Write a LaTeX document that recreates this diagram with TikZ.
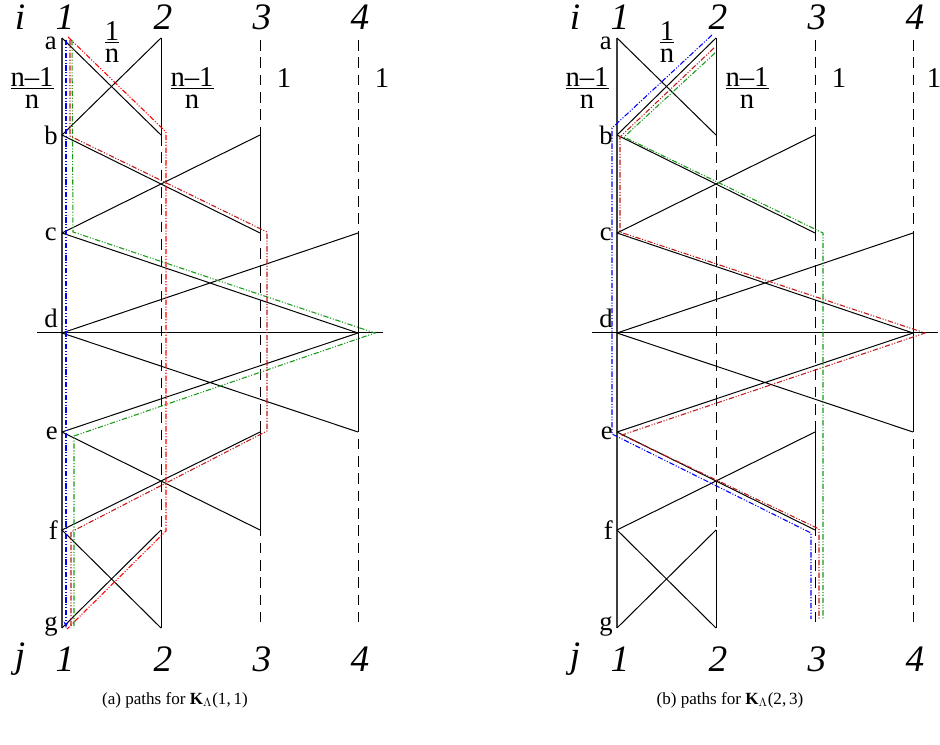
\documentclass[tikz,border=0pt]{standalone}
\usepackage{fontspec}
\setmainfont{Liberation Serif}
\usetikzlibrary{arrows.meta}
\definecolor{pblue}{rgb}{0,0,1}
\definecolor{pgreen}{rgb}{0.1,0.6,0.1}
\definecolor{pred}{rgb}{1,0,0}
\definecolor{pdred}{rgb}{0.75,0.1,0.1}
\newcommand\wfrac[2]{\vbox{\offinterlineskip\halign{\hfil##\hfil\cr #1\cr\noalign{\kern1pt\hrule height 0.9pt\kern4.2pt}#2\cr}}}
\begin{document}
\begin{tikzpicture}[x=0.75pt,y=-0.75pt,
  edge/.style={line width=0.75pt,black},
  mainline/.style={line width=1.2pt,black!75},
  dashcol/.style={line width=0.75pt,black,dash pattern=on 8pt off 5pt},
  pathline/.style={line width=0.8pt,dash pattern=on 4pt off 1.3pt on 0.8pt off 1.3pt on 0.8pt off 1.3pt},
  idx/.style={inner sep=0pt,font=\fontsize{28}{28}\selectfont\itshape},
  rowlab/.style={inner sep=0pt,font=\fontsize{20}{20}\selectfont},
  wt/.style={inner sep=0pt,font=\fontsize{21.5}{22}\selectfont},
  capt/.style={inner sep=0pt,font=\fontsize{12.8}{14}\selectfont}]
\useasboundingbox (0,0) rectangle (940,745);
\foreach \r/\y in {a/38,b/135,c/233,d/333,e/432,f/530,g/628}{
  \foreach \c/\x in {1/62,2/161,3/260,4/358}{
    \coordinate (L\c\r) at (\x,\y);
    \coordinate (R\c\r) at (\x+555,\y);
  }
}
% structure of both panels
\foreach \P in {L,R}{
  \draw[dashcol] ([shift={(0,2)}]\P3a) -- ([shift={(0,-6)}]\P3g);
  \draw[dashcol] ([shift={(0,2)}]\P4a) -- ([shift={(0,-6)}]\P4g);
  \draw[dashcol] (\P2b) -- (\P2f);
  \draw[mainline] (\P1a) -- (\P1g);
  \draw[edge] (\P2a) -- (\P2b) (\P2f) -- (\P2g) (\P3b) -- (\P3c) (\P3e) -- (\P3f) (\P4c) -- (\P4e);
  \draw[edge] (\P1a) -- (\P2b) (\P1b) -- (\P2a)
              (\P1b) -- (\P3c) (\P1c) -- (\P3b)
              (\P1c) -- (\P4d) (\P1d) -- (\P4c)
              (\P1d) -- (\P4e) (\P1e) -- (\P4d)
              (\P1e) -- (\P3f) (\P1f) -- (\P3e)
              (\P1f) -- (\P2g) (\P1g) -- (\P2f);
  \draw[edge] ([shift={(-25,0)}]\P1d) -- ([shift={(25,0)}]\P4d);
}
% labels
\foreach \P/\dx/\last in {L/0/382,R/555/934}{
  \node[idx] (\P-i) at (20+\dx,17) {i};
  \node[idx] (\P-j) at (20+\dx,659) {j};
  \foreach \n/\x in {1/65,2/163,3/262,4/360}{
    \node[idx] (\P-t\n) at (\x+\dx,17) {\n};
    \node[idx] (\P-b\n) at (\x+\dx,659) {\n};
  }
  \node[rowlab,anchor=north east] (\P-a) at (57+\dx,37) {a};
  \node[rowlab,anchor=east] (\P-b) at (58+\dx,135) {b};
  \node[rowlab,anchor=east] (\P-c) at (57+\dx,234) {c};
  \node[rowlab,anchor=south east] (\P-d) at (58+\dx,328) {d};
  \node[rowlab,anchor=east] (\P-e) at (58+\dx,433) {e};
  \node[rowlab,anchor=east] (\P-f) at (58+\dx,530) {f};
  \node[rowlab,anchor=base east] (\P-g) at (58+\dx,630) {g};
  \node[wt] (\P-w1) at (32+\dx,88) {\wfrac{n--1}{n}};
  \node[wt] (\P-w2) at (112+\dx,42) {\wfrac{1}{n}};
  \node[wt] (\P-w3) at (192+\dx,88) {\wfrac{n--1}{n}};
  \node[wt] (\P-w4) at (284+\dx,78) {1};
  \node[wt] (\P-w5) at (\last,78) {1};
}
\node[capt] (capA) at (175,700) {(a) paths for \textbf{K}$_{\Lambda}$(1,\,1)};
\node[capt] (capB) at (730,700) {(b) paths for \textbf{K}$_{\Lambda}$(2,\,3)};
% paths, panel (a)
\draw[pathline,pblue,-{Stealth[length=5pt,width=3.5pt]}] ([shift={(4,2)}]L1a) -- ([shift={(4,0)}]L1g);
\draw[pathline,pgreen] ([shift={(10,2)}]L1a) -- ([shift={(11,-1)}]L1c) -- ([shift={(17,0)}]L4d)
   -- ([shift={(12,4)}]L1e) -- ([shift={(12,0)}]L1g);
\draw[pathline,pred] ([shift={(6,-1)}]L1a) -- ([shift={(5,-3)}]L2b) -- ([shift={(5,1)}]L2f) -- ([shift={(5,1)}]L1g);
\draw[pathline,pdred] ([shift={(8,2)}]L1a) -- ([shift={(8,1)}]L1b) -- ([shift={(7,-1)}]L3c)
   -- ([shift={(7,-1)}]L3e) -- ([shift={(9,2)}]L1f) -- ([shift={(9,0)}]L1g);
% paths, panel (b)
\draw[pathline,pblue] ([shift={(-4,-3)}]R2a) -- ([shift={(-5,-7)}]R1b) -- ([shift={(-5,2)}]R1e)
   -- ([shift={(-4,3)}]R3f) -- ([shift={(-4,-9)}]R3g);
\draw[pathline,pdred] ([shift={(-2,10)}]R2a) -- ([shift={(3,2)}]R1b) -- ([shift={(3,-1)}]R1c)
   -- ([shift={(12,0)}]R4d) -- ([shift={(5,3)}]R1e) -- ([shift={(4,-1)}]R3f) -- ([shift={(4,-9)}]R3g);
\draw[pathline,pgreen] ([shift={(-1,15)}]R2a) -- ([shift={(7,2)}]R1b) -- ([shift={(8,0)}]R3c)
   -- ([shift={(8,-9)}]R3g);
\end{tikzpicture}
\end{document}
